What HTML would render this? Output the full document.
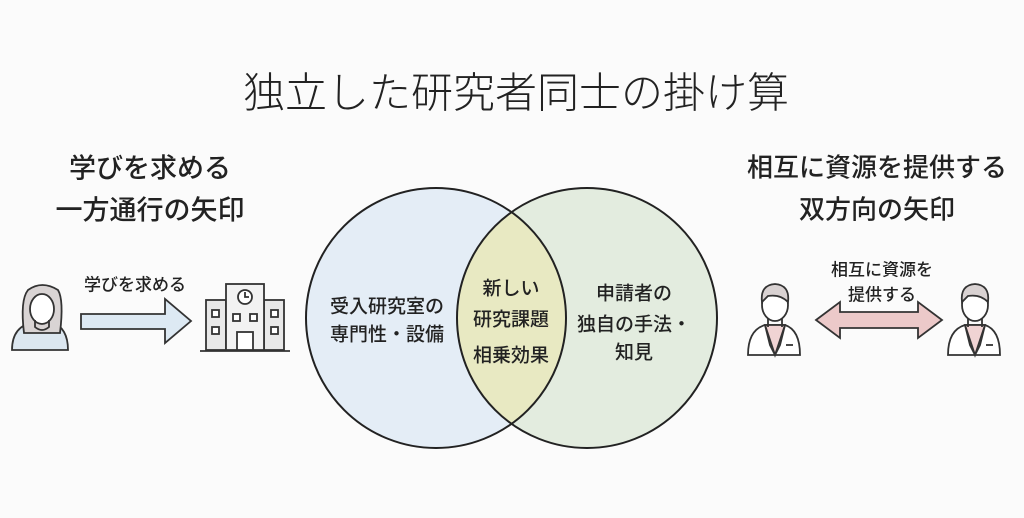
<!DOCTYPE html>
<html><head><meta charset="utf-8"><style>
body{margin:0;width:1024px;height:518px;background:#fbfbfb;overflow:hidden;position:relative;font-family:"Liberation Sans","Noto Sans CJK JP",sans-serif;color:#222}
.t{position:absolute;white-space:nowrap;text-align:center;transform:translate(-50%,-50%)}
</style></head><body>
<div class="t" style="left:516px;top:90px;font-size:42px;font-weight:300">独立した研究者同士の掛け算</div>
<div class="t" style="left:150px;top:166px;font-size:27px;font-weight:500">学びを求める</div>
<div class="t" style="left:150px;top:208px;font-size:27px;font-weight:500">一方通行の矢印</div>
<div class="t" style="left:877px;top:166px;font-size:26px;font-weight:500">相互に資源を提供する</div>
<div class="t" style="left:877px;top:208px;font-size:26px;font-weight:500">双方向の矢印</div>
<div class="t" style="left:135px;top:283px;font-size:17px;font-weight:500">学びを求める</div>
<div class="t" style="left:882px;top:268px;font-size:17px;font-weight:500">相互に資源を</div>
<div class="t" style="left:882px;top:293px;font-size:17px;font-weight:500">提供する</div>
<svg width="1024" height="518" style="position:absolute;left:0;top:0">
<circle cx="436" cy="318" r="130" fill="#e4edf6"/>
<circle cx="587" cy="318" r="130" fill="#e3ecdf"/>
<clipPath id="c"><circle cx="436" cy="318" r="130"/></clipPath>
<circle cx="587" cy="318" r="130" fill="#e8e9c2" clip-path="url(#c)"/>
<circle cx="436" cy="318" r="130" fill="none" stroke="#222" stroke-width="2"/>
<circle cx="587" cy="318" r="130" fill="none" stroke="#222" stroke-width="2"/>
<!-- left person -->
<g stroke="#333" stroke-width="1.8" fill="none">
<path d="M12 350 Q12 326 34 322 L52 322 Q68 328 68 350 Z" fill="#dce7f0"/>
<path d="M24 333 Q20 300 28 290 Q42 280 58 290 Q64 300 60 333 Z" fill="#d9d4d4"/>
<ellipse cx="42" cy="309" rx="12" ry="15" fill="#fff"/>
<path d="M35 320 L35 327 Q42 333 49 327 L49 320"/>
</g>
<!-- arrow -->
<path d="M81 314 L165 314 L165 299 L191 321 L165 343 L165 329 L81 329 Z" fill="#dde9f3" stroke="#333" stroke-width="1.8"/>
<!-- building -->
<g stroke="#333" stroke-width="1.8" fill="#e8e8e8">
<rect x="206" y="300" width="20" height="50"/><rect x="264" y="300" width="20" height="50"/>
<rect x="226" y="284" width="38" height="66" fill="#f2f2f2"/>
<circle cx="245" cy="297" r="7" fill="#fff"/>
<path d="M245 292 V297 H249" fill="none"/>
<rect x="212" y="310" width="7" height="7" fill="#fff"/><rect x="212" y="327" width="7" height="7" fill="#fff"/>
<rect x="271" y="310" width="7" height="7" fill="#fff"/><rect x="271" y="327" width="7" height="7" fill="#fff"/>
<rect x="233" y="314" width="7" height="7" fill="#fff"/><rect x="250" y="314" width="7" height="7" fill="#fff"/>
<rect x="237" y="332" width="16" height="18" fill="#fff"/>
<line x1="200" y1="351" x2="290" y2="351"/>
</g>
<!-- double arrow -->
<path d="M816 320 L840 302 L840 312 L918 312 L918 302 L942 320 L918 338 L918 328 L840 328 L840 338 Z" fill="#ecc9c9" stroke="#333" stroke-width="1.8"/>
<!-- men -->
<g id="m" stroke="#333" stroke-width="1.8" fill="none">
<path d="M748 355 Q748 330 765 325 L785 325 Q800 330 800 355 Z" fill="#fff"/>
<path d="M765 325 L775 355 L785 325 Z" fill="#f0d3d3"/>
<path d="M765 325 L770 345 L775 355 M785 325 L780 345 L775 355"/>
<line x1="786" y1="345" x2="793" y2="345"/>
<ellipse cx="775" cy="305" rx="13" ry="16" fill="#fff"/>
<path d="M762 302 Q760 285 775 284 Q790 285 788 302 Q780 294 768 296 Z" fill="#d9d2d2"/>
<path d="M768 318 L768 327 M782 318 L782 327"/>
</g>
<use href="#m" x="200"/>
</svg>
<div class="t" style="left:387px;top:305px;font-size:19px;font-weight:500">受入研究室の</div>
<div class="t" style="left:387px;top:333px;font-size:19px;font-weight:500">専門性・設備</div>
<div class="t" style="left:511px;top:287px;font-size:19px;font-weight:500">新しい</div>
<div class="t" style="left:511px;top:318px;font-size:19px;font-weight:500">研究課題</div>
<div class="t" style="left:511px;top:354px;font-size:19px;font-weight:500">相乗効果</div>
<div class="t" style="left:634px;top:292px;font-size:19px;font-weight:500">申請者の</div>
<div class="t" style="left:634px;top:323px;font-size:19px;font-weight:500">独自の手法・</div>
<div class="t" style="left:634px;top:351px;font-size:19px;font-weight:500">知見</div>
</body></html>
